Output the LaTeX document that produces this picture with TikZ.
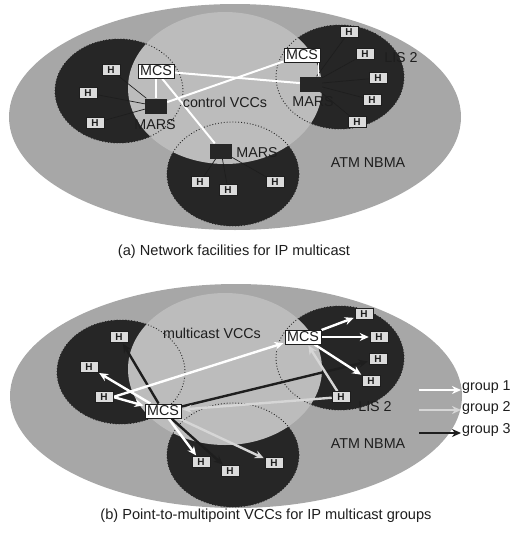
\documentclass[tikz,border=0pt]{standalone}
\usepackage{fontspec}
\setmainfont{Liberation Sans}
\usetikzlibrary{arrows.meta}
\pgfdeclarelayer{bg}
\pgfdeclarelayer{wires}
\pgfsetlayers{bg,wires,main}
\definecolor{outerg}{HTML}{A7A7A7}
\definecolor{innerg}{HTML}{BCBCBC}
\definecolor{darkc}{HTML}{262626}
\definecolor{grptwo}{HTML}{D6D6D6}
\definecolor{inkc}{HTML}{1E1E1E}
\begin{document}
\begin{tikzpicture}[x=1pt,y=-1pt,
  font=\fontsize{14.3}{16}\selectfont,
  hbox/.style={draw=inkc, line width=0.5pt, fill=gray!28, minimum width=18pt, minimum height=11pt, inner sep=0pt, text=inkc, font=\fontsize{10}{10}\selectfont\bfseries},
  mcsbox/.style={draw=inkc, line width=1pt, fill=white, minimum width=36pt, minimum height=14pt, inner sep=0pt, text=inkc},
  marsbox/.style={fill=darkc, minimum width=22pt, minimum height=15pt, inner sep=0pt},
  lbl/.style={inner sep=0pt, text=inkc},
  ctl/.style={draw=white, line width=2pt},
  tie/.style={draw=inkc, line width=0.7pt},
  lisdot/.style={draw=gray!30!black, dotted, line width=0.9pt},
  arr/.style={line width=2.4pt, -{Stealth[length=9pt,width=8pt]}, shorten >=1pt},
  gone/.style={arr, draw=white, fill=white},
  gtwo/.style={arr, draw=grptwo, fill=grptwo},
  gthree/.style={arr, draw=inkc, fill=inkc}]
\useasboundingbox (0,0) rectangle (512,544);

% ---------- backgrounds ----------
\begin{pgfonlayer}{bg}
  % panel (a)
  \fill[outerg] (235,117) ellipse [x radius=226, y radius=113];
  \fill[darkc] (119,91) ellipse [x radius=64, y radius=52];
  \fill[darkc] (340,77) ellipse [x radius=64, y radius=52];
  \fill[darkc] (233,174) ellipse [x radius=66, y radius=52];
  \fill[innerg] (225,88) ellipse [x radius=97, y radius=76];
  \draw[lisdot] (119,91) ellipse [x radius=64, y radius=52];
  \draw[lisdot] (340,77) ellipse [x radius=64, y radius=52];
  \draw[lisdot] (233,174) ellipse [x radius=66, y radius=52];
  % panel (b)
  \fill[outerg] (236,396) ellipse [x radius=226, y radius=112];
  \fill[darkc] (121,372) ellipse [x radius=64, y radius=52];
  \fill[darkc] (340,358) ellipse [x radius=64, y radius=52];
  \fill[darkc] (233,455) ellipse [x radius=66, y radius=52];
  \fill[innerg] (225,369) ellipse [x radius=97, y radius=76];
  \draw[lisdot] (121,372) ellipse [x radius=64, y radius=52];
  \draw[lisdot] (340,358) ellipse [x radius=64, y radius=52];
  \draw[lisdot] (233,455) ellipse [x radius=66, y radius=52];
\end{pgfonlayer}

% ---------- panel (a) nodes ----------
\node[hbox] (h11) at (111,70) {H};
\node[hbox] (h12) at (88,93) {H};
\node[hbox] (h13) at (95,123) {H};
\node[hbox] (h21) at (349,32) {H};
\node[hbox] (h22) at (365,54) {H};
\node[hbox] (h23) at (378,78) {H};
\node[hbox] (h24) at (372,100) {H};
\node[hbox] (h25) at (357,122) {H};
\node[hbox] (h31) at (200,182) {H};
\node[hbox] (h32) at (228,190) {H};
\node[hbox] (h33) at (275,182) {H};
\node[mcsbox] (mcs1) at (156,71) {MCS};
\node[mcsbox] (mcs2) at (302,55) {MCS};
\node[marsbox] (mars1) at (156,106) {};
\node[marsbox] (mars2) at (311,84) {};
\node[marsbox] (mars3) at (221,151) {};
\node[lbl] (mars1l) at (155,125) {MARS};
\node[lbl] (mars2l) at (313,102) {MARS};
\node[lbl] (mars3l) at (257,153) {MARS};
\node[lbl] (ctlv) at (225,102) {control VCCs};
\node[lbl] (lis2a) at (401,58) {LIS 2};
\node[lbl] (atma) at (368,163) {ATM NBMA};
\node[lbl, font=\fontsize{14.6}{16}\selectfont] (capa) at (234,252) {(a) Network facilities for IP multicast};

\begin{pgfonlayer}{wires}
  \foreach \h in {h11,h12,h13} \draw[tie] (mars1) -- (\h);
  \foreach \h in {h21,h22,h23,h24,h25} \draw[tie] (mars2) -- (\h);
  \foreach \h in {h31,h32,h33} \draw[tie] (mars3) -- (\h);
  \draw[ctl] (mcs1) -- (mars1);
  \draw[ctl] (mcs1) -- (mars2);
  \draw[ctl] (mars1) -- (mcs2);
  \draw[ctl] (mcs1) -- (mars3);
  \draw[ctl, line width=1.2pt] (mcs2.south -| mars2.north east) ++(-4,0) coordinate (m2a) -- (m2a |- mars2.north);
\end{pgfonlayer}

% ---------- panel (b) nodes ----------
\node[hbox] (b11) at (119,337) {H};
\node[hbox] (b12) at (89,367) {H};
\node[hbox] (b13) at (104,397) {H};
\node[hbox] (b21) at (364,314) {H};
\node[hbox] (b22) at (379,337) {H};
\node[hbox] (b23) at (378,359) {H};
\node[hbox] (b24) at (371,381) {H};
\node[hbox] (b25) at (341,397) {H};
\node[hbox] (b31) at (201,462) {H};
\node[hbox] (b32) at (230,471) {H};
\node[hbox] (b33) at (274,463) {H};
\node[mcsbox] (mcs1b) at (163,411) {MCS};
\node[mcsbox] (mcs2b) at (303,337) {MCS};
\node[lbl] (mvcc) at (212,333) {multicast VCCs};
\node[lbl] (lis2b) at (375,407) {LIS 2};
\node[lbl] (atmb) at (368,444) {ATM NBMA};
\node[lbl, anchor=west] (lg1) at (462,387) {group 1};
\node[lbl, anchor=west] (lg2) at (462,408) {group 2};
\node[lbl, anchor=west] (lg3) at (462,430) {group 3};
\coordinate (la1) at (419,390);
\coordinate (la2) at (419,410);
\coordinate (la3) at (419,433);
\node[lbl, font=\fontsize{14.6}{16}\selectfont] (capb) at (266,516) {(b) Point-to-multipoint VCCs for IP multicast groups};

\begin{pgfonlayer}{wires}
  % group 3 (black)
  \draw[gthree] (mcs1b) -- (b11);
  \draw[gthree] (mcs1b) -- (b23);
  \draw[gthree] (mcs1b) -- (b32);
  % group 2 (light grey)
  \draw[gtwo] (b25) -- (mcs2b);
  \draw[gtwo] (b25) -- (mcs1b);
  \draw[gtwo] (mcs1b) -- (b33);
  % group 1 (white)
  \draw[gone] (b13.east) -- (mcs1b);
  \draw[gone] (b13.east) -- (mcs2b);
  \draw[gone] (mcs1b) -- (b12);
  \draw[gone] (mcs1b) -- (b31);
  \draw[gone] (mcs2b) -- (b21);
  \draw[gone] (mcs2b) -- (b22);
  \draw[gone] (mcs2b) -- (b24);
  % legend
  \draw[gone] (la1) -- (la1 -| lg1.west);
  \draw[gtwo] (la2) -- (la2 -| lg2.west);
  \draw[gthree] (la3) -- (la3 -| lg3.west);
\end{pgfonlayer}
\end{tikzpicture}
\end{document}
